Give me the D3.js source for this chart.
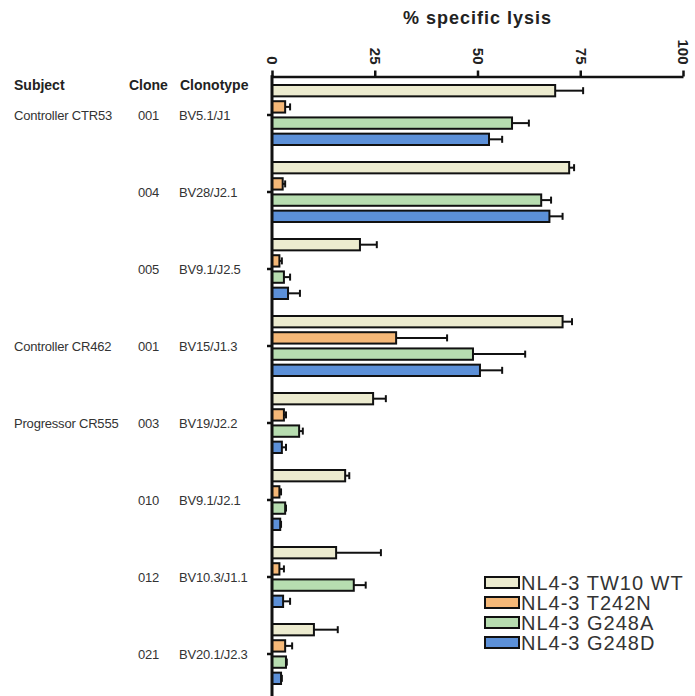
<!DOCTYPE html>
<html>
<head>
<meta charset="utf-8">
<script src="https://cdn.jsdelivr.net/npm/d3@7"></script>
<style>
  body { margin: 0; background: #fff; }
  svg { display: block; font-family: "Liberation Sans", Arial, sans-serif; }
</style>
</head>
<body>
<svg id="chart"></svg>
<script>
// data
let subjects = ["Controller CTR53", "", "", "Controller CR462", "Progressor CR555", "", "", ""]
let clones = ["001", "004", "005", "001", "003", "010", "012", "021"]
let clonotypes = ["BV5.1/J1", "BV28/J2.1", "BV9.1/J2.5", "BV15/J1.3", "BV19/J2.2", "BV9.1/J2.1", "BV10.3/J1.1", "BV20.1/J2.3"]

let seriesNames = ["NL4-3 TW10 WT", "NL4-3 T242N", "NL4-3 G248A", "NL4-3 G248D"]
let seriesColors = ["#ecebcf", "#f5b878", "#b7ddb0", "#5c90d8"]

let wtMean = [68.9, 72.3, 21.4, 70.7, 24.6, 17.8, 15.6, 10.2]
let wtErr = [6.8, 1.2, 4.1, 2.3, 3.1, 1.0, 10.9, 5.8]
let t242nMean = [3.2, 2.6, 1.8, 30.2, 2.9, 1.8, 1.8, 3.2]
let t242nErr = [1.2, 0.6, 0.6, 12.4, 0.5, 0.4, 1.1, 1.7]
let g248aMean = [58.4, 65.5, 2.9, 48.9, 6.6, 3.2, 19.9, 3.4]
let g248aErr = [4.1, 2.4, 1.5, 12.7, 0.9, 0.2, 2.9, 0.2]
let g248dMean = [52.8, 67.5, 3.9, 50.6, 2.4, 2.0, 2.7, 2.2]
let g248dErr = [3.2, 3.2, 2.9, 5.4, 1.0, 0.2, 1.7, 0.2]

let xTicks = [0, 25, 50, 75, 100]

let means = [wtMean, t242nMean, g248aMean, g248dMean]
let errs = [wtErr, t242nErr, g248aErr, g248dErr]

let rows = []
clones.forEach(function (c, i) {
    seriesNames.forEach(function (s, j) {
        rows.push({ group: i, series: s, color: seriesColors[j], mean: means[j][i], err: errs[j][i] })
    })
})

let W = 695, H = 696
let svg = d3.select("#chart").attr("width", W).attr("height", H)

let x = d3.scaleLinear().domain([0, 100]).range([272, 683])
let y = d3.scaleBand().domain(d3.range(clones.length)).range([76.5, 692.5])
let yInner = d3.scaleBand().domain(seriesNames).range([8.5, 68.5]).paddingInner(0.3)

// title
svg.append("text")
    .attr("x", (x(0) + x(100)) / 2)
    .attr("y", 24)
    .attr("text-anchor", "middle")
    .style("font-size", "18px")
    .style("font-weight", "bold")
    .style("letter-spacing", "1px")
    .attr("fill", "#222")
    .text("% specific lysis")

// top axis
let xAxisG = svg.append("g")
    .attr("transform", "translate(0," + y.range()[0] + ")")
    .call(d3.axisTop(x).tickValues(xTicks).tickSize(6).tickSizeOuter(0))
xAxisG.select(".domain").attr("stroke", "#111").attr("stroke-width", 2.5)
xAxisG.selectAll(".tick line").attr("stroke", "#111").attr("stroke-width", 2.5)
xAxisG.selectAll(".tick text")
    .attr("transform", "rotate(90)")
    .attr("x", -12)
    .attr("y", 0)
    .attr("dy", "0.35em")
    .attr("text-anchor", "end")
    .style("font-size", "15px")
    .style("font-weight", "bold")
    .style("font-family", "'Liberation Sans', Arial, sans-serif")
    .attr("fill", "#222")

// bars
let bars = svg.append("g")
bars.selectAll("rect")
    .data(rows)
    .join("rect")
    .attr("x", x(0))
    .attr("y", d => y(d.group) + yInner(d.series))
    .attr("width", d => x(d.mean) - x(0))
    .attr("height", yInner.bandwidth())
    .attr("fill", d => d.color)
    .attr("stroke", "#111")
    .attr("stroke-width", 2)

// error bars (upper only)
let errG = svg.append("g").attr("stroke", "#111").attr("stroke-width", 2)
errG.selectAll("line.err")
    .data(rows)
    .join("line")
    .attr("class", "err")
    .attr("x1", d => x(d.mean))
    .attr("x2", d => x(d.mean + d.err))
    .attr("y1", d => y(d.group) + yInner(d.series) + yInner.bandwidth() / 2)
    .attr("y2", d => y(d.group) + yInner(d.series) + yInner.bandwidth() / 2)
errG.selectAll("line.cap")
    .data(rows)
    .join("line")
    .attr("class", "cap")
    .attr("x1", d => x(d.mean + d.err))
    .attr("x2", d => x(d.mean + d.err))
    .attr("y1", d => y(d.group) + yInner(d.series) + yInner.bandwidth() / 2 - 3.5)
    .attr("y2", d => y(d.group) + yInner(d.series) + yInner.bandwidth() / 2 + 3.5)

// left axis
let yAxisG = svg.append("g")
    .attr("transform", "translate(" + x(0) + ",0)")
    .call(d3.axisLeft(y).tickSize(5).tickFormat(""))
yAxisG.select(".domain").remove()
yAxisG.selectAll(".tick line").attr("stroke", "#111").attr("stroke-width", 2.5)
svg.append("line")
    .attr("x1", x(0)).attr("x2", x(0))
    .attr("y1", y.range()[0] - 1.2).attr("y2", H + 2)
    .attr("stroke", "#111").attr("stroke-width", 3)

// row labels
let headerY = 90
let cols = [{ x: 14, name: "Subject", vals: subjects },
    { x: 129, name: "Clone", vals: clones },
    { x: 180, name: "Clonotype", vals: clonotypes }]
cols.forEach(function (c) {
    svg.append("text")
        .attr("x", c.x).attr("y", headerY)
        .style("font-size", "14px")
        .style("font-weight", "bold")
        .attr("fill", "#222")
        .text(c.name)
})
let labelX = [14, 138, 179]
cols.forEach(function (c, k) {
    svg.append("g").selectAll("text")
        .data(c.vals)
        .join("text")
        .attr("x", labelX[k])
        .attr("y", (d, i) => y(i) + y.bandwidth() / 2)
        .attr("dy", "0.35em")
        .style("font-size", "13px")
        .style("letter-spacing", "-0.2px")
        .attr("fill", "#333")
        .text(d => d)
})

// legend
let legend = svg.append("g").attr("transform", "translate(485,577)")
let li = legend.selectAll("g")
    .data(seriesNames)
    .join("g")
    .attr("transform", (d, i) => "translate(0," + i * 20 + ")")
li.append("rect")
    .attr("width", 34).attr("height", 11)
    .attr("fill", (d, i) => seriesColors[i])
    .attr("stroke", "#111").attr("stroke-width", 2)
li.append("text")
    .attr("x", 36).attr("y", 5.5)
    .attr("dy", "0.36em")
    .style("font-size", "20px")
    .style("letter-spacing", "1px")
    .attr("fill", "#333")
    .text(d => d)
</script>
</body>
</html>
